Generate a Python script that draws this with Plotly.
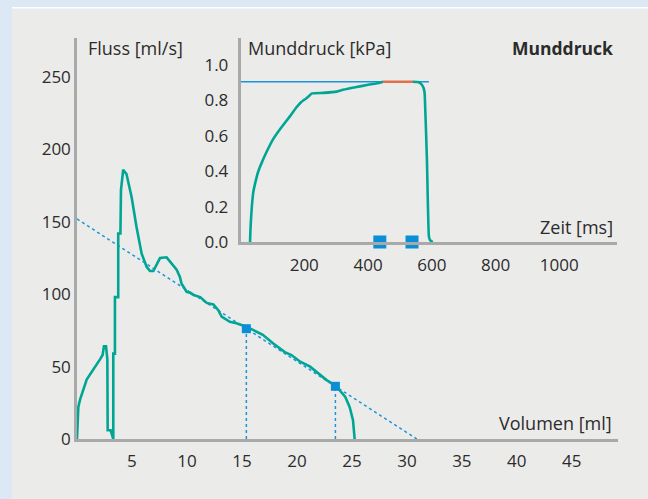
import plotly.graph_objects as go

# ---- main chart data: flow-volume curve ----
volume = [0, 0.12, 0.27, 0.88, 2.09, 2.33, 2.45, 2.64, 2.76, 2.79, 3.06, 3.24,
          3.3, 3.3, 3.45, 3.45, 3.75, 3.75, 3.95, 4.0, 4.2, 4.5, 4.97, 5.4, 5.88,
          6.33, 6.64, 6.94, 7.24, 7.55, 8.15, 8.6, 9.06, 9.36, 9.5, 9.97, 10.3,
          10.6, 11.2, 11.8, 12.4, 12.85, 13.15, 13.9, 14.5, 15.4, 16.9, 17.85,
          18.9, 19.5, 20.3, 21.2, 21.8, 22.7, 23.55, 24.4, 24.8, 25.1, 25.25]
flow = [0, 22, 27, 41, 55, 58, 64, 64, 55, 6, 6, 0,
        0, 59, 59, 98, 98, 142, 142, 172, 186, 183, 167, 147, 128,
        119, 116, 116, 121, 125, 125.5, 121, 117, 112, 107.5, 101.7, 101,
        99.5, 98, 94, 93, 89, 84.5, 81, 80, 77.6, 72, 66,
        60, 58, 53.4, 50, 46.5, 40.7, 36.6, 29, 22, 13, 0]

trend_v = [0, 30.9]
trend_f = [152, 0]
marker_v = [15.4, 23.5]
marker_f = [76.2, 36.4]

x_ticks = [5, 10, 15, 20, 25, 30, 35, 40, 45]
y_ticks = [0, 50, 100, 150, 200, 250]

# ---- inset data: mouth pressure over time ----
time_ms = [30, 31, 33, 36, 40, 47, 56, 67, 82, 102, 125, 155, 175, 190, 205,
           215, 224, 260, 302, 321, 360, 397, 428, 447]
pressure = [0, 0.06, 0.13, 0.21, 0.28, 0.34, 0.40, 0.45, 0.51, 0.58, 0.64, 0.71,
            0.76, 0.79, 0.81, 0.825, 0.84, 0.843, 0.85, 0.86, 0.875, 0.887, 0.897, 0.906]
plateau_t = [447, 541]
plateau_p = [0.906, 0.906]
fall_t = [541, 556, 566, 572, 576, 578, 585, 591, 596, 603]
fall_p = [0.906, 0.904, 0.895, 0.88, 0.86, 0.83, 0.45, 0.03, 0.008, 0]
ref_t = [0, 591]
ref_p = [0.906, 0.906]
mark_t = [437, 538]
mark_p = [0, 0]
inset_x_ticks = [200, 400, 600, 800, 1000]
inset_y_ticks = [0.0, 0.2, 0.4, 0.6, 0.8, 1.0]

TEAL = "#00a693"
BLUE = "#1b94dc"
SQ = "#0a8fd6"
ORANGE = "#e2704c"
AXIS = "#a9a9a9"
TXT = "#2b2b2b"
FONT = "Open Sans"
FRAME = "#dce8f3"
PANEL = "#ebebea"

fig = go.Figure()

# main chart
fig.add_trace(go.Scatter(x=trend_v, y=trend_f, mode="lines",
                         line=dict(color=BLUE, width=1.5, dash="3px,3px"),
                         xaxis="x", yaxis="y", showlegend=False, hoverinfo="skip"))
for v, f in zip(marker_v, marker_f):
    fig.add_trace(go.Scatter(x=[v, v], y=[0, f], mode="lines",
                             line=dict(color=BLUE, width=1.5, dash="3px,3px"),
                             xaxis="x", yaxis="y", showlegend=False, hoverinfo="skip"))
fig.add_trace(go.Scatter(x=volume, y=flow, mode="lines",
                         line=dict(color=TEAL, width=2.6),
                         xaxis="x", yaxis="y", showlegend=False))
fig.add_trace(go.Scatter(x=marker_v, y=marker_f, mode="markers",
                         marker=dict(symbol="square", size=9, color=SQ),
                         xaxis="x", yaxis="y", showlegend=False))

# inset
fig.add_trace(go.Scatter(x=ref_t, y=ref_p, mode="lines",
                         line=dict(color=BLUE, width=1.5),
                         xaxis="x2", yaxis="y2", showlegend=False))
fig.add_trace(go.Scatter(x=time_ms, y=pressure, mode="lines",
                         line=dict(color=TEAL, width=2.6, shape="spline", smoothing=0.3),
                         xaxis="x2", yaxis="y2", showlegend=False))
fig.add_trace(go.Scatter(x=fall_t, y=fall_p, mode="lines",
                         line=dict(color=TEAL, width=2.6, shape="spline", smoothing=0.3),
                         xaxis="x2", yaxis="y2", showlegend=False))
fig.add_trace(go.Scatter(x=plateau_t, y=plateau_p, mode="lines",
                         line=dict(color=ORANGE, width=2.6),
                         xaxis="x2", yaxis="y2", showlegend=False))
fig.add_trace(go.Scatter(x=mark_t, y=mark_p, mode="markers",
                         marker=dict(symbol="square", size=13, color=SQ),
                         xaxis="x2", yaxis="y2", showlegend=False, cliponaxis=False))

axis_common = dict(showgrid=False, zeroline=False, showline=True, linecolor=AXIS,
                   linewidth=2.5, ticks="", tickfont=dict(family=FONT, size=17, color=TXT))

L, T, W, H = 77, 38, 541, 401


def px_x(p):
    return (p - L) / W


def px_y(p):
    return ((T + H) - p) / H


fig.update_layout(
    width=648, height=499,
    margin=dict(l=L, r=648 - L - W, t=T, b=499 - T - H),
    paper_bgcolor=PANEL, plot_bgcolor="rgba(0,0,0,0)",
    font=dict(family=FONT, color=TXT),
    xaxis=dict(domain=[0, 1], range=[0, 49.2], tickvals=x_ticks, anchor="y",
               ticklabelstandoff=5, **axis_common),
    yaxis=dict(domain=[0, 1], range=[0, 277], tickvals=y_ticks, anchor="x",
               ticklabelstandoff=0, **axis_common),
    xaxis2=dict(domain=[px_x(240.5), px_x(617)], range=[0, 1181], tickvals=inset_x_ticks,
                anchor="y2", ticklabelstandoff=6, **axis_common),
    yaxis2=dict(domain=[px_y(242), px_y(38)], range=[0, 1.153], tickvals=inset_y_ticks,
                tickformat=".1f", anchor="x2", ticklabelstandoff=6, **axis_common),
    shapes=[
        # top blue strip
        dict(type="rect", xref="paper", yref="paper", x0=px_x(0), x1=px_x(648),
             y0=px_y(7), y1=px_y(0),
             fillcolor=FRAME, line=dict(width=0), layer="below"),
        # left blue strip
        dict(type="rect", xref="paper", yref="paper", x0=px_x(0), x1=px_x(12),
             y0=px_y(499), y1=px_y(0),
             fillcolor=FRAME, line=dict(width=0), layer="below"),
        dict(type="line", xref="paper", yref="paper", x0=px_x(12), x1=px_x(648),
             y0=px_y(7.8), y1=px_y(7.8),
             line=dict(color="#ffffff", width=1.5), layer="below"),
    ],
)

ann = [
    dict(text="Fluss [ml/s]", px=86, py=48, anchor="left", size=18),
    dict(text="Munddruck [kPa]", px=246, py=48, anchor="left", size=18),
    dict(text="<b>Munddruck</b>", px=615, py=48, anchor="right", size=17.5),
    dict(text="Zeit [ms]", px=615, py=227, anchor="right", size=18),
    dict(text="Volumen [ml]", px=614, py=423, anchor="right", size=18),
]
for a in ann:
    fig.add_annotation(text=a["text"], x=px_x(a["px"]), y=px_y(a["py"]),
                       xref="paper", yref="paper", xanchor=a["anchor"], yanchor="middle",
                       showarrow=False, font=dict(family=FONT, size=a["size"], color=TXT))

fig.write_html(
    "out.html", config={"displayModeBar": False},
    post_script=("document.documentElement.style.overflow='hidden';"
                 "document.body.style.overflow='hidden';"
                 "document.body.style.margin='0';"
                 "document.body.style.background='" + PANEL + "';"))
